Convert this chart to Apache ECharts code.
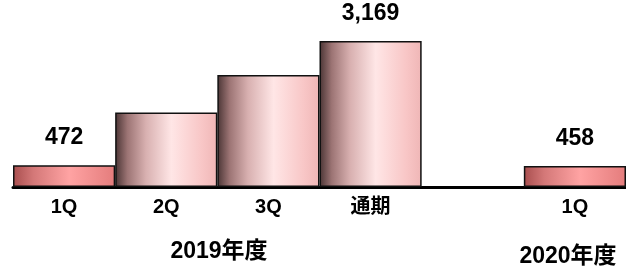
<!DOCTYPE html>
<html>
<head>
<meta charset="utf-8">
<script src="https://cdn.jsdelivr.net/npm/echarts@6/dist/echarts.min.js"></script>
<style>
  html, body { margin: 0; padding: 0; background: #fff; }
  #chart { width: 626px; height: 271px; }
</style>
</head>
<body>
<div id="chart"></div>
<script>
// 売上データ
const categories = ['1Q', '2Q', '3Q', '通期', '', '1Q'];
const values = [472, 1620, 2430, 3169, null, 458];
const shownLabels = [true, false, false, true, false, true];
const quarterFlags = [true, false, false, false, false, true];
const yearLabels = ['2019年度', '2020年度'];

const font = '"Liberation Sans", Arial, "Noto Sans CJK JP", sans-serif';

function grad(isQuarter) {
    if (isQuarter) {
        return new echarts.graphic.LinearGradient(0, 0, 1, 0, [
            { offset: 0, color: '#a84e4e' },
            { offset: 0.2, color: '#d47878' },
            { offset: 0.55, color: '#ffa3a3' },
            { offset: 1, color: '#e47c7c' }
        ]);
    }
    return new echarts.graphic.LinearGradient(0, 0, 1, 0, [
        { offset: 0, color: '#4a3434' },
        { offset: 0.12, color: '#9c7474' },
        { offset: 0.3, color: '#d8b0b0' },
        { offset: 0.55, color: '#ffe6e6' },
        { offset: 0.85, color: '#f8c6c6' },
        { offset: 1, color: '#efb6b6' }
    ]);
}

let data = [];
for (let i = 0; i < values.length; i++) {
    data.push({
        value: values[i],
        itemStyle: { color: grad(quarterFlags[i]) },
        label: { show: shownLabels[i] }
    });
}

let myChart = echarts.init(document.getElementById('chart'));
myChart.setOption({
    animation: false,
    grid: { left: 13, right: 0, top: 0, height: 187 },
    xAxis: {
        type: 'category',
        data: categories,
        axisLine: { lineStyle: { color: '#000', width: 3 } },
        axisTick: { show: false },
        axisLabel: {
            color: '#000', fontFamily: font, fontWeight: 'bold', fontSize: 20, margin: 10
        }
    },
    yAxis: {
        type: 'value', min: 0, max: 4060, show: false, splitLine: { show: false }
    },
    series: [{
        type: 'bar',
        data: data,
        barWidth: '100%',
        itemStyle: { borderColor: '#111', borderWidth: 1.5 },
        label: {
            position: 'top', distance: 16, color: '#000', fontFamily: font,
            fontWeight: 'bold', fontSize: 23,
            formatter: p => p.value.toLocaleString('en-US')
        }
    }],
    graphic: [
        {
            type: 'text', x: 219, y: 252,
            style: {
                text: yearLabels[0], fill: '#000', font: 'bold 23px ' + font,
                align: 'center', verticalAlign: 'middle'
            }
        },
        {
            type: 'text', x: 568, y: 257,
            style: {
                text: yearLabels[1], fill: '#000', font: 'bold 23px ' + font,
                align: 'center', verticalAlign: 'middle'
            }
        }
    ]
});
</script>
</body>
</html>
